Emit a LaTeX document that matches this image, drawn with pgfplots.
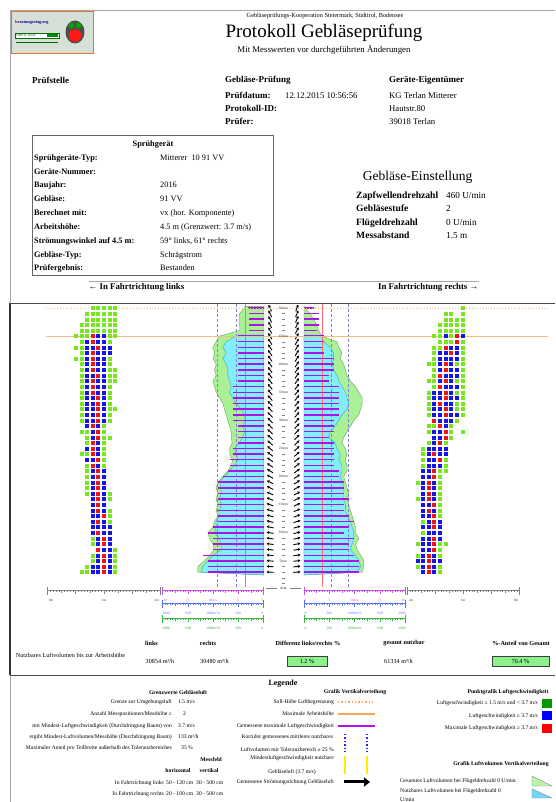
\documentclass[border=0pt]{standalone}
\usepackage{fontspec}
\setmainfont{Liberation Serif}
\usepackage{pgfplots}
\usepackage{pgfplotstable}
\pgfplotsset{compat=1.18}
\usetikzlibrary{arrows.meta}

\definecolor{dotG}{RGB}{120,230,30}
\definecolor{dotB}{RGB}{20,20,235}
\definecolor{dotR}{RGB}{240,20,20}
\definecolor{areaG}{RGB}{170,240,150}
\definecolor{areaGd}{RGB}{110,165,100}
\definecolor{areaC}{RGB}{130,238,250}
\definecolor{areaCd}{RGB}{60,170,190}
\definecolor{barM}{RGB}{170,20,230}
\definecolor{orng}{RGB}{245,165,90}
\definecolor{corr}{RGB}{130,130,210}
\definecolor{redl}{RGB}{250,110,110}
\definecolor{rulM}{RGB}{200,80,230}
\definecolor{rulB}{RGB}{90,120,240}
\definecolor{rulG}{RGB}{60,180,60}
\definecolor{okbox}{RGB}{140,240,140}

\newcommand{\fs}[1]{\fontsize{#1}{#1}\selectfont}
\newcommand{\tx}[3]{\node[anchor=#1,inner sep=0pt] at (#2) {#3};}

% max air speed per height (m/s): left, right
\pgfplotstableread{
h L R
500 3.1 2.0
490 2.9 2.9
480 2.9 2.9
470 2.9 2.9
460 2.9 2.5
450 5.1 3.9
440 5.1 3.9
430 5.1 3.5
420 5.1 3.9
410 5.1 5.9
400 5.1 5.9
390 5.1 5.9
380 5.1 4.9
370 5.1 4.9
360 6.1 6.9
350 6.1 6.9
340 6.1 6.9
330 6.1 6.9
320 6.1 6.9
310 6.1 6.9
300 6.1 5.9
290 5.1 5.9
280 5.1 5.9
270 5.1 4.9
260 5.1 5.9
250 6.1 5.9
240 6.1 5.9
230 6.7 5.9
220 6.7 5.9
210 7.1 6.9
200 8.0 6.9
190 9.0 7.9
180 9.0 7.9
170 9.0 7.9
160 9.0 8.9
150 9.0 7.9
140 9.0 7.9
130 9.0 8.9
120 9.0 9.9
110 10.0 8.9
100 11.0 7.9
90 10.0 9.9
80 10.0 8.9
70 10.0 8.9
60 12.0 9.9
50 11.0 10.9
40 11.0 10.9
30 11.0 10.9
}\MaxTab

% total air volume left (m3/h)
\pgfplotstableread{
h v
25 0
30 1300
40 1300
50 1168
60 1069
70 970
80 1003
90 1069
100 1102
110 1003
120 970
130 904
140 937
150 904
160 937
170 904
180 937
190 904
200 805
210 706
220 640
230 607
240 673
250 673
260 620
270 640
280 640
290 673
300 706
310 739
320 772
330 805
340 871
350 937
360 970
370 1003
380 937
390 970
400 937
410 1003
420 970
430 1003
440 937
450 870
460 475
470 475
480 488
490 475
500 376
503 376
503 0
}\LTot

% usable air volume left
\pgfplotstableread{
h v
25 0
30 1234
40 1200
50 1102
60 1003
70 838
80 838
90 871
100 970
110 937
120 937
130 871
140 871
150 838
160 871
170 838
180 838
190 871
200 772
210 673
220 574
230 508
240 541
250 574
260 475
270 409
280 376
290 409
300 376
310 376
320 442
330 541
340 607
350 673
360 640
370 673
380 706
390 706
400 739
410 805
420 739
430 805
440 739
450 541
452 541
452 0
}\LNutz

% total air volume right
\pgfplotstableread{
h v
25 0
30 1153
40 1187
50 1187
60 1120
70 1053
80 1020
90 1087
100 1020
110 1020
120 987
130 953
140 920
150 887
160 853
170 887
180 853
190 820
200 787
210 853
220 853
230 820
240 853
250 820
260 753
270 787
280 853
290 920
300 987
310 1087
320 1120
330 1153
340 1153
350 1087
360 1020
370 920
380 853
390 820
400 787
410 720
420 753
430 687
440 653
450 353
460 287
470 253
480 187
490 120
500 20
503 0
}\RTot

% usable air volume right
\pgfplotstableread{
h v
25 0
30 1053
40 1120
50 1087
60 1020
70 920
80 953
90 987
100 987
110 953
120 920
130 853
140 820
150 820
160 787
170 787
180 787
190 753
200 720
210 753
220 753
230 687
240 720
250 653
260 620
270 487
280 520
290 620
300 687
310 753
320 853
330 887
340 853
350 820
360 753
370 687
380 653
390 587
400 553
410 587
420 587
430 520
440 387
450 353
452 353
452 0
}\RNutz

% flow direction angle (deg above horizontal): left, right
\pgfplotstableread{
h aL aR
500 65 70
490 64 68
480 63 67
470 62 66
460 60 64
450 59 61
440 58 60
430 57 60
420 56 59
410 56 58
400 55 58
390 54 57
380 53 56
370 52 55
360 51 54
350 50 53
340 49 52
330 48 51
320 47 50
310 46 50
300 45 49
290 44 48
280 43 47
270 42 46
260 41 45
250 40 44
240 38 42
230 36 40
220 34 38
210 32 36
200 30 34
190 28 32
180 26 30
170 24 28
160 22 26
150 20 24
140 18 22
130 16 20
120 14 18
110 12 16
100 10 14
90 9 12
80 8 10
70 7 9
60 6 8
50 5 7
40 4 6
30 3 5
}\ArrTab

\pgfplotsset{base/.style={hide axis, scale only axis, clip=false, enlargelimits=false,
  ymin=0, ymax=500, height=281pt, anchor=south west}}

\begin{document}
\begin{tikzpicture}[x=1pt,y=1pt]
\useasboundingbox (0pt,0pt) rectangle (555pt,802pt);

% ---------- centre left ----------
\begin{axis}[base, at={(162.5pt,213pt)}, width=101pt, xmin=0, xmax=20, x dir=reverse]
\addplot[fill=areaG, draw=areaGd, line width=0.4pt] table[x expr=\thisrow{v}/100, y=h] {\LTot} -- cycle;
\addplot[fill=areaC, draw=areaCd, line width=0.4pt] table[x expr=\thisrow{v}/100, y=h] {\LNutz} -- cycle;
\addplot[corr, dash pattern=on 3pt off 2pt, line width=0.5pt] coordinates {(9.2,4) (9.2,509)};
\addplot[corr, dash pattern=on 3pt off 2pt, line width=0.5pt] coordinates {(5.4,4) (5.4,509)};
\addplot[redl, line width=0.6pt] coordinates {(3.7,4) (3.7,509)};
\addplot[xcomb, barM, line width=1.5pt] table[x=L, y=h] {\MaxTab};
\addplot[black, line width=0.9pt, -{Stealth[length=2.6pt,width=3pt]},
  quiver={u={1.39*cos(\thisrow{aL})}, v={12.46*sin(\thisrow{aL})}}]
  table[x expr={-1.3-0.69*cos(\thisrow{aL})}, y expr={\thisrow{h}-6.23*sin(\thisrow{aL})}] {\ArrTab};
\end{axis}

% ---------- centre right ----------
\begin{axis}[base, at={(304pt,213pt)}, width=101pt, xmin=0, xmax=20]
\addplot[fill=areaG, draw=areaGd, line width=0.4pt] table[x expr=\thisrow{v}/100, y=h] {\RTot} -- cycle;
\addplot[fill=areaC, draw=areaCd, line width=0.4pt] table[x expr=\thisrow{v}/100, y=h] {\RNutz} -- cycle;
\addplot[corr, dash pattern=on 3pt off 2pt, line width=0.5pt] coordinates {(5.4,4) (5.4,509)};
\addplot[corr, dash pattern=on 3pt off 2pt, line width=0.5pt] coordinates {(8.8,4) (8.8,509)};
\addplot[redl, line width=0.6pt] coordinates {(3.7,4) (3.7,509)};
\addplot[xcomb, barM, line width=1.5pt] table[x=R, y=h] {\MaxTab};
\addplot[black, line width=0.9pt, -{Stealth[length=2.6pt,width=3pt]},
  quiver={u={1.39*cos(\thisrow{aR})}, v={12.46*sin(\thisrow{aR})}}]
  table[x expr={-1.4-0.69*cos(\thisrow{aR})}, y expr={\thisrow{h}-6.23*sin(\thisrow{aR})}] {\ArrTab};
\end{axis}

% ---------- right dot grid (+ reference lines) ----------
\begin{axis}[base, at={(406pt,213pt)}, width=112.5pt, xmin=0, xmax=200]
\addplot[orng!75, line width=0.8pt] coordinates {(-640,450) (253,450)};
\addplot[orng!75, dotted, line width=0.8pt] coordinates {(-640,500) (253,500)};
\addplot[only marks, mark=square*, mark size=1.5pt, dotG] coordinates {
(100,500)
(70,490)(80,490)(100,490)
(70,480)(80,480)(90,480)(100,480)
(60,470)(70,470)(80,470)(90,470)(100,470)
(60,460)(70,460)(80,460)(90,460)(100,460)
(50,450)(60,450)(80,450)
(60,440)(70,440)(80,440)(100,440)
(50,430)(60,430)(100,430)
(50,420)(100,420)
(50,410)(100,410)
(40,400)(50,400)(90,400)(100,400)
(50,390)(100,390)
(50,380)(100,380)
(40,370)(50,370)(90,370)(100,370)
(50,360)(100,360)
(40,350)(90,350)(100,350)
(40,340)(100,340)
(40,330)(90,330)(100,330)
(40,320)(90,320)(100,320)
(40,310)(100,310)
(90,300)
(40,290)(50,290)(80,290)
(40,280)(80,280)(100,280)
(80,270)
(40,260)(70,260)
(30,250)
(30,240)
(30,230)(70,230)
(30,220)(70,220)
(60,210)(70,210)
(60,200)
(20,190)(60,190)
(60,180)(60,170)
(20,160)(60,160)
(60,150)(60,140)(60,130)
(30,120)
(30,100)
(20,80)(60,80)(70,80)
(60,70)
(20,60)(60,60)
(20,40)(60,40)
(60,30)};
\addplot[only marks, mark=square*, mark size=1.5pt, dotB] coordinates {
(70,450)(100,450)
(80,430)(90,430)
(60,420)(70,420)(90,420)
(60,410)(70,410)(80,410)(90,410)
(60,400)(80,400)
(60,390)(80,390)(90,390)
(70,380)(80,380)(90,380)
(60,370)(80,370)
(70,360)(80,360)(90,360)
(50,350)(60,350)(80,350)
(50,340)(60,340)(80,340)(90,340)
(50,330)(70,330)(80,330)
(50,320)(60,320)(80,320)
(50,310)(60,310)(80,310)(90,310)
(60,300)(70,300)(80,300)
(70,290)
(50,280)(60,280)
(50,270)(60,270)
(50,260)
(40,250)(50,250)(60,250)(70,250)
(40,240)(60,240)(70,240)
(40,230)(50,230)
(40,220)(50,220)(60,220)
(30,210)(40,210)
(30,200)(40,200)
(30,190)(50,190)
(30,180)(50,180)
(30,170)(50,170)
(30,160)(50,160)
(30,150)(40,150)
(30,140)(50,140)
(30,130)(40,130)
(40,120)(60,120)
(30,110)(40,110)(60,110)
(40,100)(50,100)(60,100)
(30,90)(40,90)(60,90)
(30,80)(40,80)
(30,70)(40,70)
(30,60)(50,60)
(20,50)(30,50)(50,50)(60,50)
(30,40)(50,40)
(30,30)(50,30)};
\addplot[only marks, mark=square*, mark size=1.5pt, dotR] coordinates {
(90,450)(90,440)(70,430)(80,420)(70,400)(70,390)(60,380)(70,370)(60,360)(70,350)
(70,340)(60,330)(70,320)(70,310)(50,300)(60,290)(70,280)(70,270)(60,260)(50,240)
(60,230)(50,210)(50,200)(40,190)(40,180)(40,170)(40,160)(50,150)(40,140)(50,130)
(50,120)(50,110)(50,90)(50,80)(50,70)(40,60)(40,50)(40,40)(40,30)};
\end{axis}

% ---------- left dot grid ----------
\begin{axis}[base, at={(47.5pt,213pt)}, width=112.5pt, xmin=0, xmax=200]
\addplot[only marks, mark=square*, mark size=1.5pt, dotG] coordinates {
(80,500)(90,500)(100,500)(110,500)(120,500)
(70,490)(80,490)(90,490)(100,490)(110,490)(120,490)
(70,480)(80,480)(90,480)(100,480)(110,480)(120,480)
(60,470)(70,470)(80,470)(90,470)(100,470)(110,470)(120,470)
(60,460)(70,460)(80,460)(90,460)(100,460)(110,460)(120,460)
(50,450)(60,450)(70,450)(110,450)(120,450)
(60,440)(110,440)
(50,430)(60,430)
(60,420)
(50,410)(60,410)(110,410)
(60,400)(110,400)
(60,390)(110,390)(120,390)
(60,380)(110,380)(120,380)
(60,370)(110,370)(120,370)
(60,360)(110,360)
(60,350)(110,350)
(60,340)(110,340)
(60,330)(110,330)
(60,320)(110,320)(120,320)
(60,310)(110,310)
(60,300)(110,300)
(100,290)
(60,280)(70,280)(100,280)
(70,270)(100,270)(110,270)
(70,260)(100,260)
(100,250)
(60,240)(70,240)(100,240)
(100,230)
(70,220)(100,220)
(70,210)(70,200)(70,190)(70,180)
(70,170)(110,170)
(110,160)(110,140)(110,130)(110,120)
(80,90)(80,80)
(120,70)
(80,60)(120,60)
(80,50)(120,50)
(70,40)(120,40)
(60,30)(70,30)(120,30)};
\addplot[only marks, mark=square*, mark size=1.5pt, dotB] coordinates {
(90,450)(100,450)
(70,440)(90,440)(100,440)
(70,430)(80,430)(100,430)(110,430)
(70,420)(90,420)(100,420)(110,420)
(70,410)(90,410)(100,410)
(70,400)(90,400)(100,400)
(70,390)(90,390)(100,390)
(70,380)(80,380)(100,380)
(70,370)(90,370)(100,370)
(70,360)(90,360)(100,360)
(70,350)(90,350)(100,350)
(70,340)(80,340)(100,340)
(70,330)(80,330)(100,330)
(70,320)(80,320)(100,320)
(70,310)(80,310)(100,310)
(70,300)(80,300)(100,300)
(70,290)(90,290)
(80,280)
(80,270)
(90,260)
(70,250)(90,250)
(90,240)
(70,230)(80,230)
(90,220)
(80,210)(100,210)
(80,200)(100,200)
(80,190)(100,190)
(80,180)(100,180)
(80,170)(100,170)
(80,160)(100,160)
(80,150)(100,150)
(80,140)(100,140)
(80,130)(90,130)
(80,120)(100,120)
(80,110)(90,110)(100,110)(110,110)
(80,100)(100,100)(110,100)
(90,90)(110,90)
(90,80)(110,80)
(100,70)(110,70)
(90,60)(110,60)
(90,50)(110,50)
(80,40)(90,40)(110,40)
(80,30)(90,30)(110,30)};
\addplot[only marks, mark=square*, mark size=1.5pt, dotR] coordinates {
(80,450)(80,440)(90,430)(80,420)(80,410)(80,400)(80,390)(90,380)(80,370)(80,360)
(80,350)(90,340)(90,330)(90,320)(90,310)(90,300)(80,290)(90,280)(90,270)(80,260)
(80,250)(80,240)(90,230)(80,220)(90,210)(90,200)(90,190)(90,180)(90,170)(90,160)
(90,150)(90,140)(100,130)(90,120)(90,100)(100,90)(100,80)(90,70)(100,60)(100,50)
(100,40)(100,30)};
\end{axis}

% centre height labels
\foreach \h in {50,100,...,500}{
  \node[inner sep=0pt, text=black!85] at (283.5,{213+0.562*\h}) {\fs{3.4}\h cm};
}
\foreach \b in {0,50,...,450}{
  \foreach \d in {10,20,30,40}{
    \draw[gray, line width=0.4pt] (282.3,{213+0.562*(\b+\d)}) -- (284.7,{213+0.562*(\b+\d)});
  }
}

\begin{scope}[shift={(0,802)}, y=-1pt]
% frame
\draw[gray!70, line width=0.8pt] (10,10) -- (555,10);
\draw[gray!70, line width=0.8pt] (10,10) -- (10,802);
\draw[black!80, line width=1.4pt] (10,303.5) -- (10,675);
\draw[black!70, line width=0.8pt] (10,303.5) -- (555,303.5);
\draw[black!70, line width=0.8pt] (10,675) -- (555,675);

% logo
\draw[fill={rgb,255:red,214;green,224;blue,214}, draw={rgb,255:red,225;green,115;blue,60}, line width=0.9pt] (11,11) rectangle (93,53);
\node[anchor=west,inner sep=0pt] at (15,22) {\fs{4.3}\textbf{\textcolor{red!85!black}{b}\textcolor{blue!55!black}{eratungsring.org}}};
\draw[green!45!black, fill=white, line width=0.4pt] (15,33) rectangle (59,38.5);
\node[anchor=west,inner sep=0pt] at (16,35.8) {\fs{3.6}\textcolor{green!35!black}{OBSTLAND}};
\fill[green!55!black] (47,34.2) rectangle (58,37.3);
\draw[green!40!black, line width=0.3pt] (16,42) -- (58,42);
\fill[black!70] (75,32) ellipse (9.5 and 11.5);
\fill[green!65!black] (71.5,25.5) ellipse (2.6 and 3.2);
\fill[green!65!black] (78.5,25.5) ellipse (2.6 and 3.2);
\fill[red!90] (75,35.5) circle (6.3);

% titles
\tx{center}{325,16}{\fs{6.3}Gebläseprüfungs-Kooperation Steiermark, Südtirol, Bodensee}
\tx{center}{324,33}{\fs{19}Protokoll Gebläseprüfung}
\tx{center}{324,50}{\fs{8.8}Mit Messwerten vor durchgeführten Änderungen}

% info block
\tx{west}{32,80.5}{\fs{9}\textbf{Prüfstelle}}
\tx{west}{225,80.5}{\fs{9}\textbf{Gebläse-Prüfung}}
\tx{west}{389,80.5}{\fs{9}\textbf{Geräte-Eigentümer}}
\tx{base west}{225,98.5}{\fs{9}\textbf{Prüfdatum:}}
\tx{base west}{285,98.5}{\fs{8.7}12.12.2015 10:56:56}
\tx{base west}{225,111.8}{\fs{9}\textbf{Protokoll-ID:}}
\tx{base west}{225,125}{\fs{9}\textbf{Prüfer:}}
\tx{base west}{389,98.5}{\fs{8.7}KG Terlan Mitterer}
\tx{base west}{389,111.8}{\fs{8.7}Hautstr.80}
\tx{base west}{389,125}{\fs{8.7}39018 Terlan}

% Sprühgerät table
\draw[gray!80!black, line width=0.6pt] (32,135) rectangle (273,275);
\tx{center}{153,145}{\fs{8.3}\textbf{Sprühgerät}}
\foreach \yy/\la/\va in {157.3/{Sprühgeräte-Typ:}/{Mitterer\ \ 10 91 VV}, 171.15/{Geräte-Nummer:}/{},
  185/{Baujahr:}/{2016}, 198.85/{Gebläse:}/{91 VV}, 212.7/{Berechnet mit:}/{vx (hor. Komponente)},
  226.55/{Arbeitshöhe:}/{4.5 m (Grenzwert: 3.7 m\slash s)}, 240.4/{Strömungswinkel auf 4.5 m:}/{59° links, 61° rechts},
  254.25/{Gebläse-Typ:}/{Schrägstrom}, 268.1/{Prüfergebnis:}/{Bestanden}}{
  \node[anchor=base west,inner sep=0pt] at (34,\yy+2.9) {\fs{8.3}\textbf{\la}};
  \node[anchor=base west,inner sep=0pt] at (160,\yy+2.9) {\fs{8.3}\va};
}

% Gebläse-Einstellung
\tx{center}{417.5,177.5}{\fs{13.5}Gebläse-Einstellung}
\foreach \yy/\la/\va in {195.5/{Zapfwellendrehzahl}/{460 U\slash min}, 208.8/{Gebläsestufe}/{2},
   222.1/{Flügeldrehzahl}/{0 U\slash min}, 235.4/{Messabstand}/{1.5 m}}{
  \node[anchor=base west,inner sep=0pt] at (356,\yy+3.2) {\fs{9.6}\textbf{\la}};
  \node[anchor=base west,inner sep=0pt] at (446,\yy+3.2) {\fs{9.2}\va};
}

% direction captions
\draw[gray!70, line width=0.7pt] (88.5,281) -- (478.6,281);
\tx{west}{88.5,287.5}{\fs{8.8}\textbf{← In Fahrtrichtung links}}
\tx{east}{478.6,287.5}{\fs{8.8}\textbf{In Fahrtrichtung rechts →}}

% 0cm marker
\tx{center}{283.5,588}{\fs{3.4}0cm}
\draw[gray, line width=0.4pt] (266,588) -- (277,588);
\draw[gray, line width=0.4pt] (290,588) -- (301,588);

% rulers
\foreach \xa/\xb/\yy/\col in {47.5/160/590/gray, 407/519.5/590/gray,
   162.5/263.5/590/rulM, 304/405/590/rulM,
   162.5/263.5/603/rulB, 304/405/603/rulB,
   162.5/263.5/618/rulG, 304/405/618/rulG}{
  \draw[\col, line width=0.5pt] (\xa,\yy) -- (\xb,\yy);
  \draw[\col, line width=0.5pt] (\xa,\yy-3) -- (\xa,\yy+5);
  \draw[\col, line width=0.5pt] (\xb,\yy-3) -- (\xb,\yy+5);
  \foreach \i in {1,...,39}{
    \pgfmathsetmacro\xx{\xa+(\xb-\xa)*\i/40}
    \pgfmathsetmacro\ll{ifthenelse(mod(\i,10)==0,4.5,ifthenelse(mod(\i,5)==0,3,1.7))}
    \draw[\col, line width=0.35pt] (\xx,\yy) -- (\xx,\yy+\ll);
  }
}
\foreach \x/\t in {51/0m, 104/1m, 156.5/2m, 411/2m, 463/1m, 516/0m}{
  \node[inner sep=0pt, text=black!75] at (\x,600) {\fs{3.5}\t};
}
\foreach \x/\t in {165/20, 187.75/15, 213/10m\slash s, 238.25/5, 262.5/0, 305.5/0, 329.25/5, 354.5/10m\slash s, 379.75/15, 403/20}{
  \node[inner sep=0pt, text=rulM] at (\x,600) {\fs{3.5}\t};
}
\foreach \x/\t in {166/2000, 187.75/1500, 213/1000m³\slash h, 238.25/500, 262.5/0, 305.5/0, 329.25/500, 354.5/1000m³\slash h, 379.75/1500, 402/2000}{
  \node[inner sep=0pt, text=rulB] at (\x,613) {\fs{3.5}\t};
  \node[inner sep=0pt, text=rulG!90!black] at (\x,628) {\fs{3.5}\t};
}

% summary table
\tx{center}{151.5,643}{\fs{6.2}\textbf{links}}
\tx{center}{208,643}{\fs{6.2}\textbf{rechts}}
\tx{center}{308,643}{\fs{6.2}\textbf{Differenz links/rechts \%}}
\tx{center}{404,643}{\fs{6.2}\textbf{gesamt nutzbar}}
\tx{center}{521,643}{\fs{6.2}\textbf{\%-Anteil von Gesamt}}
\tx{west}{15.7,655}{\fs{6.2}Nutzbares Luftvolumen bis zur Arbeitshöhe}
\tx{west}{145.5,661}{\fs{6.2}30854 m³/h}
\tx{west}{200,661}{\fs{6.2}30480 m³/h}
\tx{west}{384,661}{\fs{6.2}61334 m³/h}
\draw[fill=okbox, draw=black!75, line width=0.6pt] (287,656) rectangle (327,666.5);
\tx{center}{307,661.2}{\fs{6.2}1.2 \%}
\draw[fill=okbox, draw=black!75, line width=0.6pt] (492,656) rectangle (549,666.5);
\tx{center}{520.5,661.2}{\fs{6.2}76.4 \%}

% legend
\tx{center}{283,684}{\fs{8}\textbf{Legende}}
\tx{center}{178,692.5}{\fs{5.7}\textbf{Grenzwerte Gebläseluft}}
\tx{east}{172,702}{\fs{5.6}Grenze zur Umgebungsluft}
\tx{west}{178,702}{\fs{5.6}1.5 m/s}
\tx{east}{172,714}{\fs{5.6}Anzahl Messpositionen/Messhöhe ≥}
\tx{west}{183,714}{\fs{5.6}2}
\tx{east}{172,726}{\fs{5.6}mit Mindest-Luftgeschwindigkeit (Durchdringung Baum) von}
\tx{west}{178,726}{\fs{5.6}3.7 m/s}
\tx{east}{172,737}{\fs{5.6}ergibt Mindest-Luftvolumen/Messhöhe (Durchdringung Baum)}
\tx{west}{178,737}{\fs{5.6}133 m³/h}
\tx{east}{172,748}{\fs{5.6}Maximaler Anteil pro Teilbreite außerhalb des Toleranzbereiches}
\tx{west}{181,748}{\fs{5.6}35 \%}
\tx{east}{222,760}{\fs{5.7}\textbf{Messfeld}}
\tx{center}{178,771}{\fs{5.7}\textbf{horizontal}}
\tx{center}{209,771}{\fs{5.7}\textbf{vertikal}}
\tx{east}{164,783}{\fs{5.6}In Fahrtrichtung links}
\tx{west}{166,783}{\fs{5.6}50 - 120 cm}
\tx{west}{196,783}{\fs{5.6}30 - 500 cm}
\tx{east}{164,794}{\fs{5.6}In Fahrtrichtung rechts}
\tx{west}{166,794}{\fs{5.6}20 - 100 cm}
\tx{west}{196,794}{\fs{5.6}30 - 500 cm}

\tx{center}{355,692.5}{\fs{5.7}\textbf{Grafik Vertikalverteilung}}
\tx{east}{334,702}{\fs{5.6}Soll-Höhe Luftbegrenzung}
\draw[orng, dotted, line width=1.4pt] (338,702) -- (375,702);
\tx{east}{334,714}{\fs{5.6}Maximale Arbeitshöhe}
\draw[orng, line width=1.8pt] (338,714) -- (375,714);
\tx{east}{334,726}{\fs{5.6}Gemessene maximale Luftgeschwindigkeit}
\draw[barM!80!magenta, line width=1.8pt] (338,726) -- (375,726);
\node[anchor=east, inner sep=0pt, align=center] at (334,743) {\fs{5.6}Korridor gemessenes mittleres nutzbares\\[1.5pt]\fs{5.6}Luftvolumen mit Toleranzbereich ± 25 \%};
\draw[blue!85, dotted, line width=1.4pt] (345,734) -- (345,752);
\draw[blue!85, dotted, line width=1.4pt] (367,734) -- (367,752);
\node[anchor=east, inner sep=0pt, align=center] at (334,765) {\fs{5.6}Mindestluftgeschwindigkeit nutzbare\\[1.5pt]\fs{5.6}Gebläseluft (3.7 m/s)};
\draw[yellow!95!orange, line width=2pt] (345,756) -- (345,774);
\draw[yellow!95!orange, line width=2pt] (367,756) -- (367,774);
\tx{east}{334,782}{\fs{5.6}Gemessene Strömungsrichtung Gebläseluft}
\draw[black, line width=3pt, -{Triangle[length=6pt,width=9pt]}] (344,782) -- (370,782);

\tx{center}{508,692.5}{\fs{5.7}\textbf{Punktgrafik Luftgeschwindigkeit}}
\tx{east}{538,703.5}{\fs{5.6}Luftgeschwindigkeit ≥ 1.5 m/s und < 3.7 m/s}
\fill[green!60!black] (542,699) rectangle (552,708);
\tx{east}{538,716}{\fs{5.6}Luftgeschwindigkeit ≥ 3.7 m/s}
\fill[blue] (542,711.5) rectangle (552,720.5);
\tx{east}{538,728.5}{\fs{5.6}Maximale Luftgeschwindigkeit ≥ 3.7 m/s}
\fill[red] (542,724) rectangle (552,733);
\tx{center}{501,764}{\fs{5.7}\textbf{Grafik Luftvolumen Vertikalverteilung}}
\tx{west}{400,781}{\fs{5.6}Gesamtes Luftvolumen bei Flügeldrehzahl 0 U/min}
\draw[fill=areaG!80!white, draw=gray, line width=0.4pt] (532,776) -- (552,786) -- (532,786) -- cycle;
\tx{west}{400,791.5}{\fs{5.6}Nutzbares Luftvolumen bei Flügeldrehzahl 0}
\tx{west}{400,799.5}{\fs{5.6}U/min}
\draw[fill=areaC!90!blue, draw=gray, line width=0.4pt] (532,789) -- (552,798) -- (532,798) -- cycle;
\end{scope}
\end{tikzpicture}
\end{document}
